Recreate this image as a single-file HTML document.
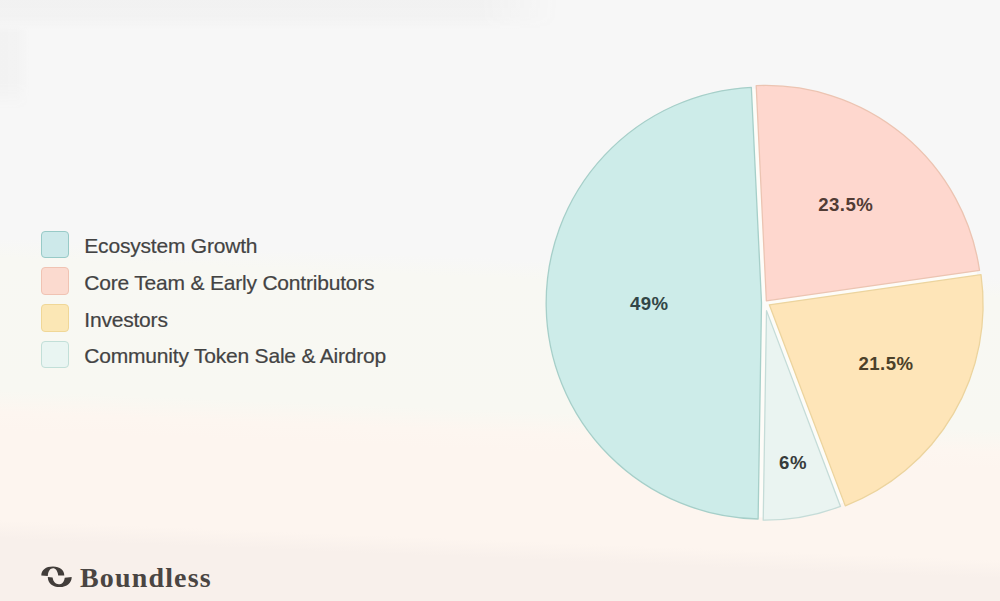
<!DOCTYPE html>
<html><head><meta charset="utf-8"><style>
html,body{margin:0;padding:0;}
body{width:1000px;height:601px;overflow:hidden;position:relative;
background:linear-gradient(182.3deg,#f7f7f7 0px,#f7f7f7 278px,#f8f8f3 298px,#f8f8f2 430px,#fdf6f0 452px,#fdf5ef 470px,#fdf5ef 560px,#f8f0eb 578px,#f8f0eb 641px);
font-family:"Liberation Sans",sans-serif;}
.box{position:absolute;left:41px;width:25.5px;height:25.5px;border-radius:4px;border:1.5px solid;}
.lt{position:absolute;left:84.3px;font-size:21px;letter-spacing:-0.2px;color:#434343;white-space:nowrap;line-height:1;-webkit-text-stroke:0.2px #434343;}
.pl{position:absolute;font-weight:bold;font-size:18.6px;letter-spacing:0.45px;color:#333;white-space:nowrap;line-height:1;transform:translate(-50%,-50%);}
svg{position:absolute;left:0;top:0;}
.brand{position:absolute;left:80px;top:564px;font-family:"Liberation Serif",serif;font-weight:bold;font-size:28px;letter-spacing:1.15px;color:#4a4542;line-height:1;}
</style></head><body>
<div style="position:absolute;left:0;top:0;width:1000px;height:34px;background:linear-gradient(to bottom,rgba(120,120,120,0.04) 0px,rgba(120,120,120,0.035) 16px,rgba(120,120,120,0) 30px);-webkit-mask-image:linear-gradient(to right,#000 0px,#000 480px,transparent 560px)"></div>
<div style="position:absolute;left:0;top:26px;width:34px;height:90px;background:linear-gradient(to right,rgba(120,120,120,0.035) 0px,rgba(120,120,120,0.03) 16px,rgba(120,120,120,0) 30px);-webkit-mask-image:linear-gradient(to bottom,transparent 0px,#000 6px,#000 56px,transparent 84px)"></div>
<div class="box" style="top:230.6px;background:#cde9ea;border-color:#98cac7"></div>
<div class="box" style="top:267.3px;background:#fbdacf;border-color:#f0c3b3"></div>
<div class="box" style="top:304px;background:#fbe7b5;border-color:#f0d797"></div>
<div class="box" style="top:340.7px;background:#e9f5f2;border-color:#c2dfd8"></div>
<div class="lt" style="top:234.7px">Ecosystem Growth</div>
<div class="lt" style="top:271.6px">Core Team &amp; Early Contributors</div>
<div class="lt" style="top:308.6px">Investors</div>
<div class="lt" style="top:345.4px">Community Token Sale &amp; Airdrop</div>
<svg width="1000" height="601" viewBox="0 0 1000 601">
<circle cx="764.5" cy="303.0" r="214.5" fill="#fdfcf8"/>
<path d="M761.50,303.05 L758.11,519.00 A216.0,216.0 0 0 1 751.33,87.31 Z" fill="#cdece9" stroke="#a6cfc9" stroke-width="1.3" stroke-linejoin="round"/>
<path d="M766.34,300.77 L756.20,85.67 A216.0,216.0 0 0 1 979.53,270.43 Z" fill="#fed7ce" stroke="#ecc4b2" stroke-width="1.3" stroke-linejoin="round"/>
<path d="M769.33,304.81 L981.01,274.69 A216.0,216.0 0 0 1 845.30,505.87 Z" fill="#fee5b8" stroke="#ecd49e" stroke-width="1.3" stroke-linejoin="round"/>
<path d="M766.51,310.64 L840.50,506.45 A216.0,216.0 0 0 1 763.21,520.18 Z" fill="#eaf4f1" stroke="#c5dcd8" stroke-width="1.3" stroke-linejoin="round"/>
<path d="M41.3,575.6 C41.3,570 45.8,566.6 53,566.6 C60,566.6 64.3,570.3 64.3,575.4 L58.2,575.6 C57.8,570.8 55.5,568.3 53,568.3 C50.3,568.3 48.2,571 47.8,575.9 Z" fill="#423d3a"/>
<path d="M71.7,577 C71.7,583 67,587.1 59.8,587.1 C52.6,587.1 47.8,583.4 47.8,577 L52.6,577.6 C53.2,582 55.8,584.3 58.7,584.3 C61.8,584.3 64.3,582 64.7,577.7 Z" fill="#423d3a"/>
</svg>
<div class="pl" style="left:649.3px;top:303.7px;color:#324646">49%</div>
<div class="pl" style="left:845.7px;top:204.5px;color:#513c35">23.5%</div>
<div class="pl" style="left:886px;top:363.6px;color:#4b4029">21.5%</div>
<div class="pl" style="left:793px;top:463.2px;color:#373b3b">6%</div>

<div class="brand">Boundless</div>
</body></html>
